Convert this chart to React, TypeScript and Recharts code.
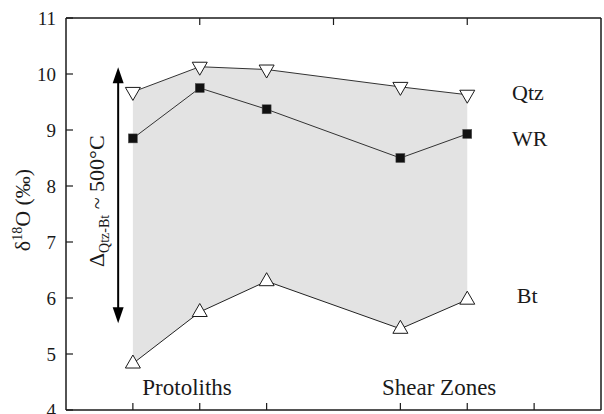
import React from 'react';
import { ComposedChart, Area, Line, XAxis, YAxis, ReferenceLine, ReferenceDot } from 'recharts';

// sample positions along the transect (x = 4 is the gap between groups)
const positions = [1, 2, 3, 5, 6];
const qtz = [9.68, 10.13, 10.08, 9.77, 9.63];
const wr = [8.85, 9.75, 9.37, 8.5, 8.93];
const bt = [4.83, 5.75, 6.3, 5.45, 5.97];

const xTicks = [1, 2, 3, 5, 6, 7];
const yTicks = [4, 5, 6, 7, 8, 9, 10, 11];

const data = positions.map((x, i) => ({
  x,
  qtz: qtz[i],
  wr: wr[i],
  bt: bt[i],
  band: [bt[i], qtz[i]],
}));

const serif = "'Liberation Serif', 'Times New Roman', Times, serif";
const ink = '#1a1a1a';
const TICK = 7;

const DownTriangle = (props: any) => {
  const { cx, cy, index } = props;
  return (
    <path
      key={'q' + index}
      d={`M${cx - 7.5},${cy - 4.5} L${cx + 7.5},${cy - 4.5} L${cx},${cy + 8.5} Z`}
      fill="#fff"
      stroke={ink}
      strokeWidth={1}
    />
  );
};

const UpTriangle = (props: any) => {
  const { cx, cy, index } = props;
  return (
    <path
      key={'b' + index}
      d={`M${cx - 7.5},${cy + 4.5} L${cx + 7.5},${cy + 4.5} L${cx},${cy - 8.5} Z`}
      fill="#fff"
      stroke={ink}
      strokeWidth={1}
    />
  );
};

const Square = (props: any) => {
  const { cx, cy, index } = props;
  return <rect key={'w' + index} x={cx - 4.5} y={cy - 4.5} width={9} height={9} fill="#111" stroke="#555" strokeWidth={0.5} />;
};

const DeltaArrow = (props: any) => {
  const { x1, y1, x2, y2 } = props;
  const top = Math.min(y1, y2);
  const bottom = Math.max(y1, y2);
  const midY = (top + bottom) / 2 + 6;
  const tx = x1 - 14;
  return (
    <g>
      <line x1={x1} y1={top + 12} x2={x2} y2={bottom - 12} stroke="#000" strokeWidth={2} />
      <path d={`M${x1},${top} L${x1 + 5.5},${top + 16} L${x1 - 5.5},${top + 16} Z`} fill="#000" />
      <path d={`M${x1},${bottom} L${x1 + 5.5},${bottom - 16} L${x1 - 5.5},${bottom - 16} Z`} fill="#000" />
      <text
        x={tx}
        y={midY}
        transform={`rotate(-90 ${tx} ${midY})`}
        textAnchor="middle"
        style={{ fontFamily: serif, fontSize: 22 }}
        fill={ink}
      >
        <tspan>Δ</tspan>
        <tspan style={{ fontSize: 14 }} dy={5}>Qtz-Bt</tspan>
        <tspan dy={-5}> ~ 500°C</tspan>
      </text>
    </g>
  );
};

const textAt = (label: string) => (props: any) => (
  <text x={props.cx} y={props.cy} dy="0.35em" style={{ fontFamily: serif, fontSize: 22 }} fill={ink}>
    {label}
  </text>
);

const textMid = (label: string) => (props: any) => (
  <text x={props.cx} y={props.cy} dy="0.35em" textAnchor="middle" style={{ fontFamily: serif, fontSize: 23 }} fill={ink}>
    {label}
  </text>
);

const YTitle = () => (
  <text
    x={30}
    y={210}
    transform="rotate(-90 30 210)"
    textAnchor="middle"
    style={{ fontFamily: serif, fontSize: 22 }}
    fill={ink}
  >
    <tspan>δ</tspan>
    <tspan style={{ fontSize: 14 }} dy={-8}>18</tspan>
    <tspan dy={8}>O (‰)</tspan>
  </text>
);

// all tick marks point into the frame; only the left axis carries labels
const LeftTick = (props: any) => {
  const { x, y, payload } = props;
  return (
    <g>
      <line x1={x + 10} y1={y} x2={x + 10 + TICK} y2={y} stroke={ink} strokeWidth={1.2} />
      <text x={x} y={y} dy="0.35em" textAnchor="end" style={{ fontFamily: serif, fontSize: 19 }} fill={ink}>
        {payload.value}
      </text>
    </g>
  );
};
const RightTick = (props: any) => (
  <line x1={props.x} y1={props.y} x2={props.x - TICK} y2={props.y} stroke={ink} strokeWidth={1.2} />
);
const BottomTick = (props: any) => (
  <line x1={props.x} y1={props.y} x2={props.x} y2={props.y - TICK} stroke={ink} strokeWidth={1.2} />
);
const TopTick = (props: any) => (
  <line x1={props.x} y1={props.y} x2={props.x} y2={props.y + TICK} stroke={ink} strokeWidth={1.2} />
);

const frame = { stroke: ink, strokeWidth: 1.5 };

export default function App() {
  return (
    <div style={{ position: 'absolute', left: 0, top: 0 }}>
      <ComposedChart width={604} height={414} data={data} margin={{ top: 17, right: 2, bottom: 3, left: 0 }}>
        <XAxis
          dataKey="x"
          type="number"
          domain={[0, 8]}
          ticks={xTicks}
          interval={0}
          height={1}
          tickSize={0}
          tickMargin={0}
          tickLine={false}
          tick={BottomTick}
          axisLine={frame}
        />
        <XAxis
          xAxisId="top"
          orientation="top"
          type="number"
          domain={[0, 8]}
          ticks={xTicks}
          interval={0}
          height={1}
          tickSize={0}
          tickMargin={0}
          tickLine={false}
          tick={TopTick}
          axisLine={frame}
        />
        <YAxis
          type="number"
          domain={[4, 11]}
          ticks={yTicks}
          interval={0}
          width={66}
          tickSize={0}
          tickMargin={10}
          tickLine={false}
          tick={LeftTick}
          axisLine={frame}
          label={{ content: YTitle }}
        />
        <YAxis
          yAxisId="right"
          orientation="right"
          type="number"
          domain={[4, 11]}
          ticks={yTicks}
          interval={0}
          width={1}
          tickSize={0}
          tickMargin={0}
          tickLine={false}
          tick={RightTick}
          axisLine={frame}
        />
        <Area
          type="linear"
          dataKey="band"
          fill="#e3e3e3"
          fillOpacity={1}
          stroke="none"
          dot={false}
          activeDot={false}
          isAnimationActive={false}
        />
        <Line type="linear" dataKey="qtz" stroke="#333" strokeWidth={1} dot={DownTriangle} activeDot={false} isAnimationActive={false} />
        <Line type="linear" dataKey="wr" stroke="#333" strokeWidth={1} dot={Square} activeDot={false} isAnimationActive={false} />
        <Line type="linear" dataKey="bt" stroke="#222" strokeWidth={1} dot={UpTriangle} activeDot={false} isAnimationActive={false} />
        <ReferenceLine
          segment={[
            { x: 0.78, y: 5.55 },
            { x: 0.78, y: 10.12 },
          ]}
          shape={DeltaArrow}
        />
        <ReferenceDot x={6.67} y={9.68} r={0} shape={textAt('Qtz')} />
        <ReferenceDot x={6.67} y={8.86} r={0} shape={textAt('WR')} />
        <ReferenceDot x={6.74} y={6.04} r={0} shape={textAt('Bt')} />
        <ReferenceDot x={1.81} y={4.41} r={0} shape={textMid('Protoliths')} />
        <ReferenceDot x={5.58} y={4.41} r={0} shape={textMid('Shear Zones')} />
      </ComposedChart>
    </div>
  );
}
